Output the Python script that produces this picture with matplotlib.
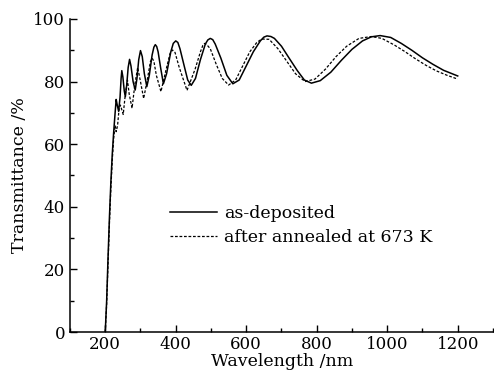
import matplotlib
matplotlib.use('Agg')
import matplotlib.pyplot as plt
from matplotlib.ticker import MultipleLocator

# Transmittance spectra
wl_dep = [200, 204, 208, 212, 216, 220, 224, 228, 231, 234, 238, 242, 245, 247, 250,
          254, 257, 261, 265, 269, 273, 279, 285, 290, 295, 300, 305, 311, 318, 325,
          333, 338, 342, 346, 350, 357, 365, 374, 386, 393, 400, 406, 412, 424, 434, 444,
          456, 470, 484, 491, 498, 505, 512, 528, 545, 562, 580, 600, 620, 640, 650, 659,
          670, 680, 700, 720, 745, 765, 785, 810, 840, 870, 900, 930, 955, 980, 1010, 1040,
          1070, 1100, 1130, 1160, 1200]
T_dep = [0, 10, 24, 37, 48, 57, 64, 70, 74.3, 72.5, 70.5, 75, 81, 83.5, 81.5,
         77, 75.2, 79, 84.5, 87.1, 85, 80, 77.3, 81, 87, 89.9, 88, 82.5, 78.4, 82,
         88.5, 91, 91.8, 91.2, 89.5, 84.5, 79.3, 82.5, 89.5, 92.2, 93, 92.5, 90.5, 85, 80.5, 78.8,
         81, 87, 92, 93.3, 93.8, 93.4, 92, 87.5, 82, 79.3, 80.5, 85, 89.5, 93, 94.2, 94.6,
         94.4, 93.8, 91.3, 87.8, 83.5, 80.5, 79.5, 80.3, 83, 86.8, 90.3, 93, 94.3, 94.7, 94.1, 92.2,
         90, 87.6, 85.5, 83.6, 81.8]

wl_ann = [200, 204, 208, 212, 216, 220, 224, 228, 231, 235, 239, 243, 247, 251, 257,
          263, 268, 276, 284, 292, 300, 309, 320, 328, 333, 338, 345, 358, 373, 384, 391,
          398, 410, 432, 455, 470, 477, 482, 488, 498, 515, 532, 550, 570, 590, 610, 630,
          644, 665, 690, 715, 740, 767, 795, 825, 855, 885, 920, 955, 985, 1020, 1050, 1080,
          1110, 1140, 1170, 1200]
T_ann = [0, 9, 22, 35, 46, 55, 62, 66, 64, 66, 71, 72.5, 71, 69.5, 76,
         80.5, 76, 71.5, 79, 84.5, 80, 74.6, 81, 86.3, 87.5, 86.5, 82, 76.8, 84, 89, 90.1,
         89.3, 84.5, 77.2, 84, 89.5, 91.6, 92.2, 91.8, 90.5, 85.5, 81, 78.9, 80.5, 85, 89.5, 92.5,
         93.6, 93.5, 90.5, 86.5, 82.5, 80, 80.8, 84, 88, 91.3, 93.8, 94.4, 93.8, 91.7, 89.6, 87.3,
         85.2, 83.4, 82, 80.8]

plt.rcParams['font.family'] = 'DejaVu Serif'
plt.rcParams['font.size'] = 12

fig = plt.figure(figsize=(4.94, 3.76), dpi=100)
ax = fig.add_axes([0.1417, 0.117, 0.8583, 0.8325])

ax.plot(wl_dep, T_dep, color='black', lw=1.1, ls='-', label='as-deposited')
ax.plot(wl_ann, T_ann, color='black', lw=0.9, ls=(0, (2.2, 1.4)), label='after annealed at 673 K')

ax.set_xlim(100, 1303)
ax.set_ylim(0, 100)
ax.xaxis.set_major_locator(MultipleLocator(200))
ax.xaxis.set_minor_locator(MultipleLocator(100))
ax.yaxis.set_major_locator(MultipleLocator(20))
ax.yaxis.set_minor_locator(MultipleLocator(10))
ax.tick_params(which='major', direction='in', length=5, width=1, labelsize=12)
ax.tick_params(which='minor', direction='in', length=3, width=1)
ax.tick_params(axis='x', pad=3)

for side in ['top', 'right']:
    ax.spines[side].set_visible(False)
for side in ['left', 'bottom']:
    ax.spines[side].set_linewidth(1.1)

ax.set_xlabel('Wavelength /nm', fontsize=12.5, labelpad=0)
ax.set_ylabel('Transmittance /%', fontsize=12.5, labelpad=4)

ax.legend(loc='center left', bbox_to_anchor=(0.236, 0.34), frameon=False,
          handlelength=2.7, handletextpad=0.4, borderpad=0, borderaxespad=0,
          labelspacing=0.45, fontsize=12.5)

plt.savefig('out.png', dpi=100)
